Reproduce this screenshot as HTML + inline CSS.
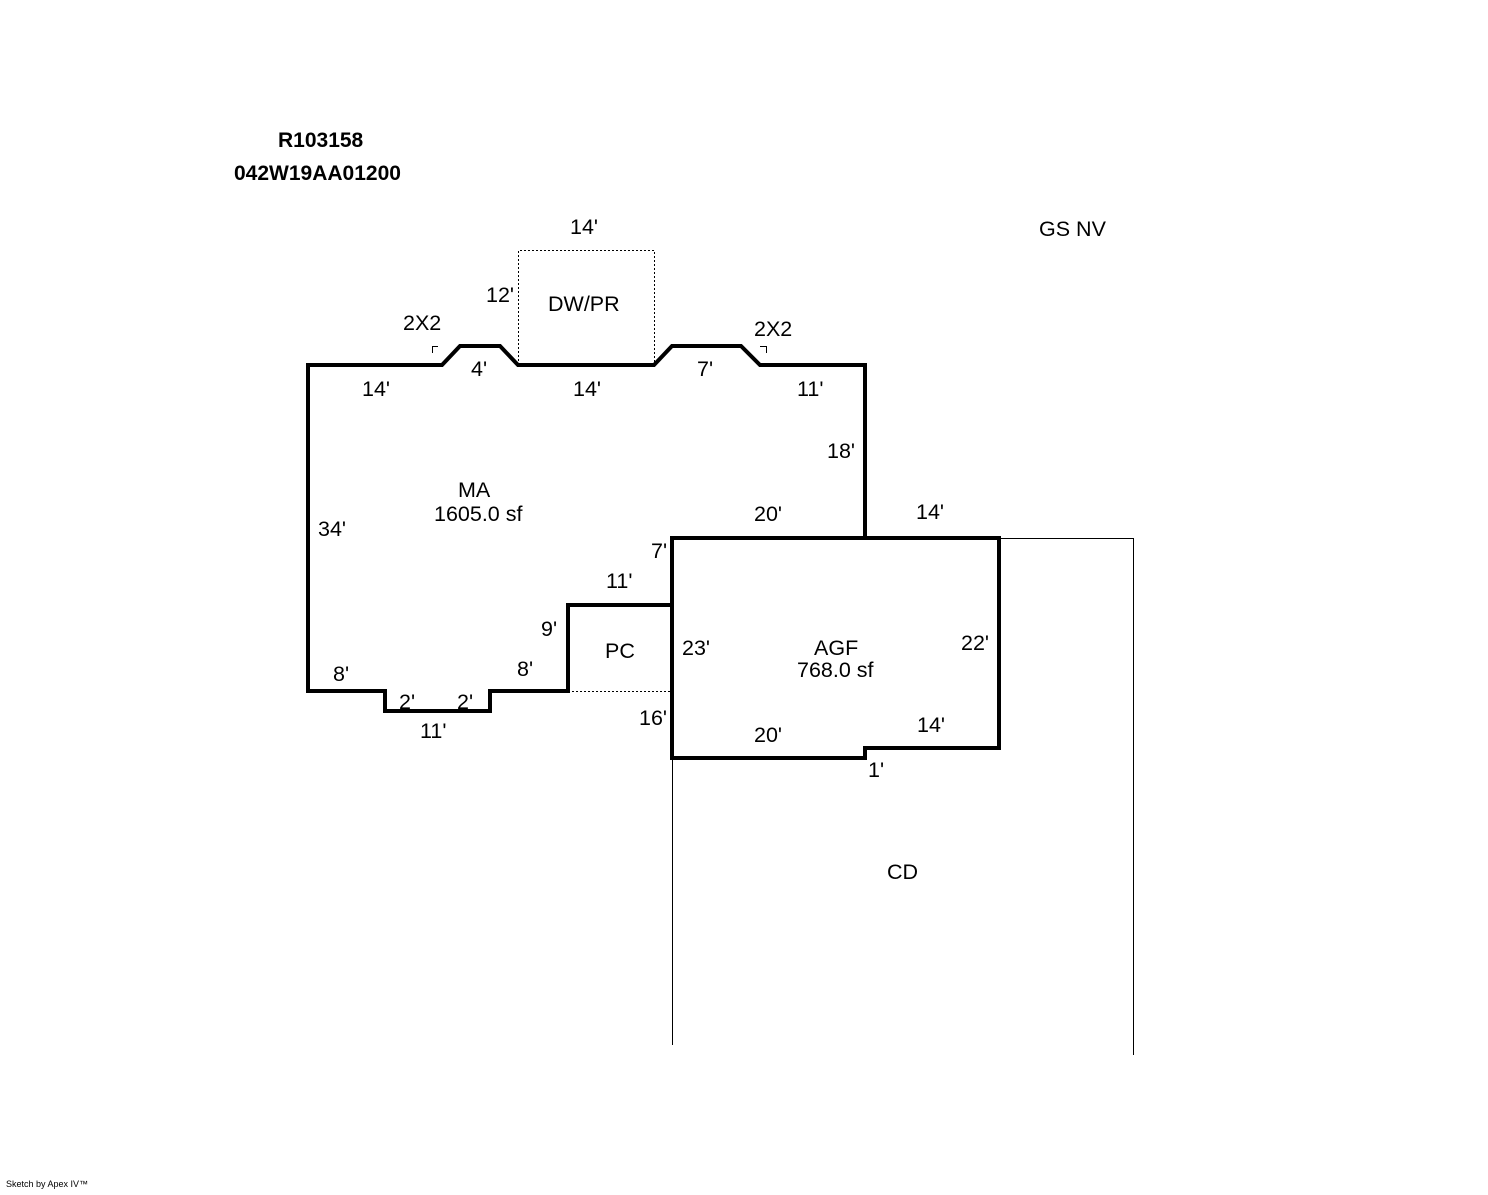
<!DOCTYPE html>
<html><head><style>
body{margin:0;background:#fff;}
svg text{font-family:"Liberation Sans",Arial,sans-serif;font-size:21.5px;fill:#000;}
</style></head><body>
<svg width="1488" height="1190" xmlns="http://www.w3.org/2000/svg">
<rect width="1488" height="1190" fill="#fff"/>
<g fill="none" stroke="#000" stroke-width="4" stroke-linejoin="miter">
<path d="M308,365 L442,365 L460,346 L500,346 L518,365 L654,365 L672,346 L741,346 L760,365 L865,365 L865,538 L672,538 L672,605 L568,605 L568,691 L490,691 L490,711 L385,711 L385,691 L308,691 Z"/>
<path d="M672,538 L999,538 L999,748 L865,748 L865,758 L672,758 Z"/>
</g>
<g fill="none" stroke="#000" stroke-width="1">
<path d="M518.5,365 L518.5,250.5 L654.5,250.5 L654.5,365" stroke-dasharray="2,2"/>
<path d="M568,691.5 L672,691.5" stroke-dasharray="2,2"/>
<path d="M672.5,758 L672.5,1045 M999,538.5 L1133.5,538.5 L1133.5,1055"/>
<path d="M432.5,353 L432.5,346.5 L438,346.5 M760,346.5 L766.5,346.5 L766.5,353"/>
</g>
<text x="278" y="147" style="font-weight:bold;font-size:21px">R103158</text>
<text x="234" y="180" style="font-weight:bold;font-size:21px">042W19AA01200</text>
<text x="1039" y="236">GS NV</text>
<text x="570" y="234">14'</text>
<text x="486" y="302">12'</text>
<text x="548" y="311">DW/PR</text>
<text x="403" y="330">2X2</text>
<text x="754" y="336">2X2</text>
<text x="471" y="376">4'</text>
<text x="697" y="376">7'</text>
<text x="362" y="396">14'</text>
<text x="573" y="396">14'</text>
<text x="797" y="396">11'</text>
<text x="827" y="458">18'</text>
<text x="458" y="497">MA</text>
<text x="434" y="521">1605.0 sf</text>
<text x="318" y="536">34'</text>
<text x="754" y="521">20'</text>
<text x="916" y="519">14'</text>
<text x="651" y="558">7'</text>
<text x="606" y="588">11'</text>
<text x="541" y="636">9'</text>
<text x="605" y="658">PC</text>
<text x="682" y="655">23'</text>
<text x="814" y="655">AGF</text>
<text x="797" y="677">768.0 sf</text>
<text x="961" y="650">22'</text>
<text x="333" y="681">8'</text>
<text x="517" y="676">8'</text>
<text x="399" y="709">2'</text>
<text x="457" y="709">2'</text>
<text x="420" y="738">11'</text>
<text x="639" y="725">16'</text>
<text x="917" y="732">14'</text>
<text x="754" y="742">20'</text>
<text x="868" y="777">1'</text>
<text x="887" y="879">CD</text>
<text x="6" y="1187" style="font-size:9px">Sketch by Apex IV™</text>
</svg>
</body></html>
